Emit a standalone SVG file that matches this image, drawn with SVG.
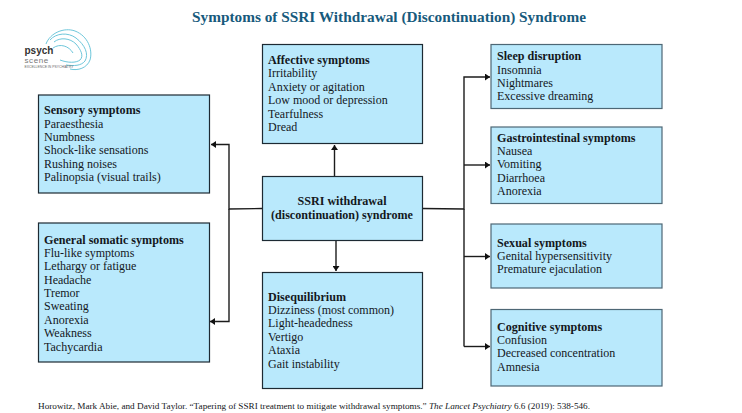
<svg xmlns="http://www.w3.org/2000/svg" width="742" height="413" viewBox="0 0 742 413">
<style>
text{font-family:"Liberation Serif","DejaVu Serif",serif;fill:#14181c}
.b{fill:#b9e9fc;stroke:#1d2a33;stroke-width:1.2}
.r{stroke:#4d6775}
.l{font-size:12px}
.h{font-size:12.100px;font-weight:bold}
.c{fill:none;stroke:#1c1c1c;stroke-width:1.4}
.a{fill:#111;stroke:none}
.g{fill:none;stroke:#5cc0d6;stroke-width:.9}
</style>
<defs>
<marker id="ah" markerWidth="6" markerHeight="7" refX="5" refY="3.5" orient="auto" markerUnits="userSpaceOnUse"><path class="a" d="M0 0L5 3.5L0 7Z"/></marker>
</defs>
<rect width="742" height="413" fill="#fff"/>
<text x="389" y="22" text-anchor="middle" style="font-size:15.300px;font-weight:bold;fill:#175a7c">Symptoms of SSRI Withdrawal (Discontinuation) Syndrome</text>
<g id="logo">
<path class="g" d="M46 44C50 33 64 27 75 31C88 36 93 50 90 60C87 68 78 71 70 69"/>
<path class="g" d="M50 40C56 33 68 32 76 38C85 45 89 54 85 61C81 66 74 66 66 65"/>
<path class="g" d="M54 42C60 37 70 38 76 44C81 50 84 56 80 60C76 63 68 63 60 60"/>
<path class="g" d="M53 48C60 43 69 46 73 53"/>
<text x="24.500" y="53.500" style="font-family:'Liberation Sans',sans-serif;font-size:10px;font-weight:bold;fill:#333">psych</text>
<text x="24.500" y="63.200" style="font-family:'Liberation Sans',sans-serif;font-size:8px;letter-spacing:.6px;fill:#777">scene</text>
<text x="24.500" y="67.800" style="font-family:'Liberation Sans',sans-serif;font-size:3.400px;fill:#666">EXCELLENCE IN PSYCHIATRY</text>
</g>
<g id="connectors">
<path class="c" d="M262 208.500L229 209V144.500H211" marker-end="url(#ah)"/>
<path class="c" d="M229 209V321.500H210" marker-end="url(#ah)"/>
<path class="c" d="M334.500 176V145" marker-end="url(#ah)"/>
<path class="c" d="M336 240V271" marker-end="url(#ah)"/>
<path class="c" d="M422 208.500L464 209V77H490" marker-end="url(#ah)"/>
<path class="c" d="M464 165H490" marker-end="url(#ah)"/>
<path class="c" d="M464 209V346.500" />
<path class="c" d="M464 256.500H490" marker-end="url(#ah)"/>
<path class="c" d="M464 346.500H490" marker-end="url(#ah)"/>
</g>
<g id="sensory"><rect class="b" x="38.500" y="95" width="171" height="98"/>
<text class="h" x="44" y="114">Sensory symptoms</text>
<text class="l" x="44" y="127.500">Paraesthesia</text>
<text class="l" x="44" y="141">Numbness</text>
<text class="l" x="44" y="154">Shock-like sensations</text>
<text class="l" x="44" y="167.500">Rushing noises</text>
<text class="l" x="44" y="181">Palinopsia (visual trails)</text></g>
<g id="somatic"><rect class="b" x="38.500" y="223" width="171" height="139"/>
<text class="h" x="44" y="244">General somatic symptoms</text>
<text class="l" x="44" y="257">Flu-like symptoms</text>
<text class="l" x="44" y="270">Lethargy or fatigue</text>
<text class="l" x="44" y="284">Headache</text>
<text class="l" x="44" y="297">Tremor</text>
<text class="l" x="44" y="310">Sweating</text>
<text class="l" x="44" y="324">Anorexia</text>
<text class="l" x="44" y="337">Weakness</text>
<text class="l" x="44" y="351">Tachycardia</text></g>
<g id="affective"><rect class="b" x="262.500" y="44.500" width="160" height="99"/>
<text class="h" x="268" y="64">Affective symptoms</text>
<text class="l" x="268" y="77">Irritability</text>
<text class="l" x="268" y="91">Anxiety or agitation</text>
<text class="l" x="268" y="104">Low mood or depression</text>
<text class="l" x="268" y="118">Tearfulness</text>
<text class="l" x="268" y="131">Dread</text></g>
<g id="center"><rect class="b" x="262.500" y="176.500" width="160" height="64"/>
<text class="h" x="342" y="205" text-anchor="middle">SSRI withdrawal</text>
<text class="h" x="342" y="218.500" text-anchor="middle">(discontinuation) syndrome</text></g>
<g id="disequilibrium"><rect class="b" x="262.500" y="272.500" width="160" height="116"/>
<text class="h" x="268" y="301">Disequilibrium</text>
<text class="l" x="268" y="314">Dizziness (most common)</text>
<text class="l" x="268" y="327">Light-headedness</text>
<text class="l" x="268" y="341">Vertigo</text>
<text class="l" x="268" y="354">Ataxia</text>
<text class="l" x="268" y="368">Gait instability</text></g>
<g id="sleep"><rect class="b r" x="491" y="44.500" width="171" height="64"/>
<text class="h" x="497" y="60">Sleep disruption</text>
<text class="l" x="497" y="73.500">Insomnia</text>
<text class="l" x="497" y="86.500">Nightmares</text>
<text class="l" x="497" y="100">Excessive dreaming</text></g>
<g id="gastro"><rect class="b r" x="491" y="127" width="171" height="76.500"/>
<text class="h" x="497" y="141.500">Gastrointestinal symptoms</text>
<text class="l" x="497" y="155">Nausea</text>
<text class="l" x="497" y="168">Vomiting</text>
<text class="l" x="497" y="182">Diarrhoea</text>
<text class="l" x="497" y="195">Anorexia</text></g>
<g id="sexual"><rect class="b r" x="491" y="224" width="171" height="64"/>
<text class="h" x="497" y="246.500">Sexual symptoms</text>
<text class="l" x="497" y="259.500">Genital hypersensitivity</text>
<text class="l" x="497" y="273">Premature ejaculation</text></g>
<g id="cognitive"><rect class="b r" x="491" y="309.500" width="171" height="76.500"/>
<text class="h" x="497" y="330.500">Cognitive symptoms</text>
<text class="l" x="497" y="344">Confusion</text>
<text class="l" x="497" y="357">Decreased concentration</text>
<text class="l" x="497" y="370.500">Amnesia</text></g>
<text x="38" y="409" style="font-size:9.200px">Horowitz, Mark Abie, and David Taylor. “Tapering of SSRI treatment to mitigate withdrawal symptoms.” <tspan font-style="italic">The Lancet Psychiatry</tspan> 6.6 (2019): 538-546.</text>
</svg>
